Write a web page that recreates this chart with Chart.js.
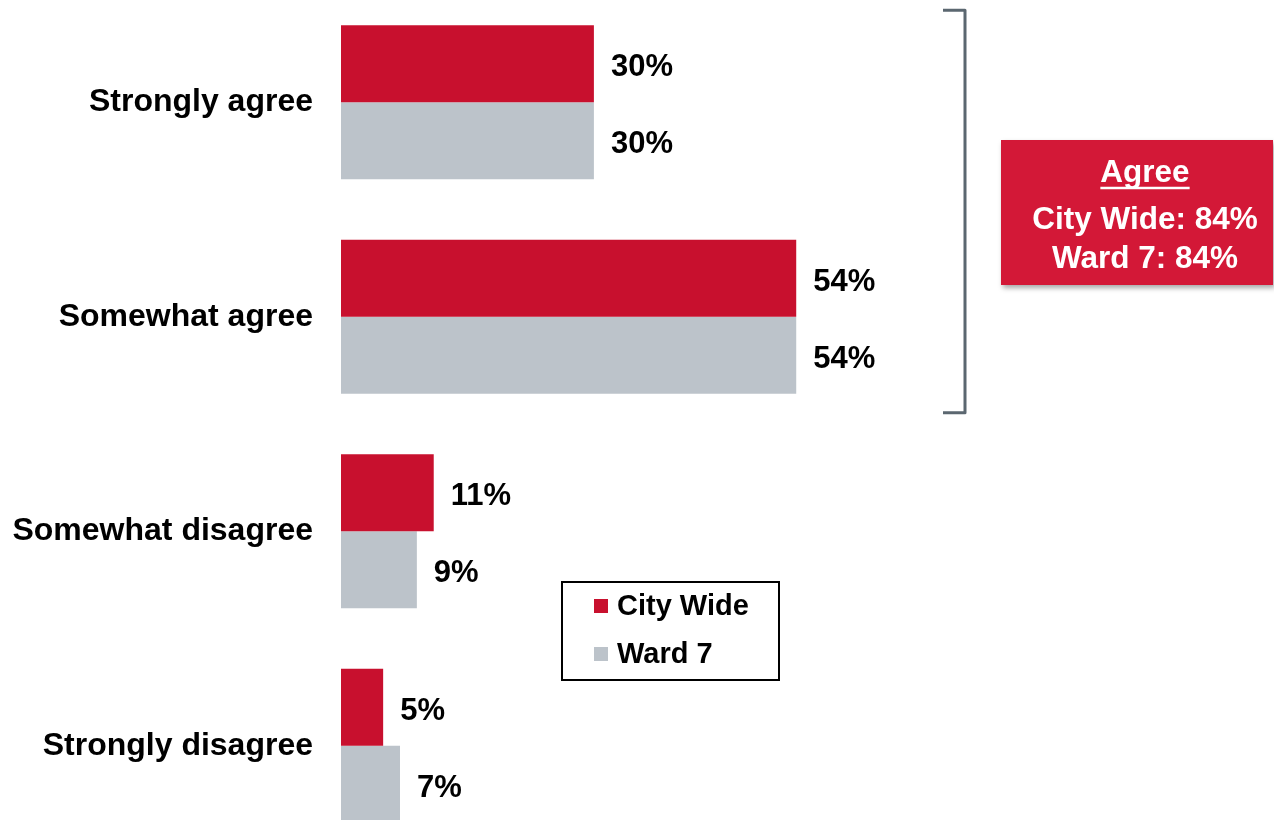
<!DOCTYPE html>
<html>
<head>
<meta charset="utf-8">
<script src="https://cdn.jsdelivr.net/npm/chart.js@4"></script>
<style>
  html, body { margin: 0; padding: 0; background: #fff; overflow: hidden; }
  #chart { position: absolute; left: 0; top: -6px; }
</style>
</head>
<body>
<canvas id="chart" width="1274" height="860"></canvas>
<script>
const categories = ['Strongly agree', 'Somewhat agree', 'Somewhat disagree', 'Strongly disagree'];
const seriesNames = ['City Wide', 'Ward 7'];
const cityWide = [30, 54, 11, 5];
const ward7 = [30, 54, 9, 7];
const agreeTotals = [84, 84];

const RED = '#C8102E';
const GREY = '#BCC3CA';
const FONT = '"Liberation Sans", Arial, sans-serif';

// value labels right of every bar
const valueLabels = {
    id: 'valueLabels',
    afterDatasetsDraw(chart) {
        const ctx = chart.ctx;
        ctx.save();
        ctx.font = 'bold 31px ' + FONT;
        ctx.fillStyle = '#000';
        ctx.textBaseline = 'middle';
        ctx.textAlign = 'left';
        chart.data.datasets.forEach((ds, i) => {
            chart.getDatasetMeta(i).data.forEach((bar, j) => {
                ctx.fillText(ds.data[j] + '%', bar.x + 17, bar.y + 4);
            });
        });
        ctx.restore();
    }
};

// legend box, bracket and the "Agree" callout
const extras = {
    id: 'extras',
    afterDraw(chart) {
        const ctx = chart.ctx;
        const y = chart.scales.y;
        const oy = 6; // canvas is shifted up by 6px

        // legend
        ctx.save();
        ctx.strokeStyle = '#000';
        ctx.lineWidth = 2;
        ctx.strokeRect(562, 582 + oy, 217, 98);
        ctx.font = 'bold 29px ' + FONT;
        ctx.textBaseline = 'alphabetic';
        ctx.textAlign = 'left';
        chart.data.datasets.forEach((ds, i) => {
            const ty = 615 + i * 48 + oy;
            ctx.fillStyle = ds.backgroundColor;
            ctx.fillRect(594, ty - 16, 14, 14);
            ctx.fillStyle = '#000';
            ctx.fillText(ds.label, 617, ty);
        });
        ctx.restore();

        // bracket spanning the two agree categories
        const top = y.getPixelForValue(0) - 92;
        const bottom = y.getPixelForValue(1) + 96;
        ctx.save();
        ctx.strokeStyle = '#5B6770';
        ctx.lineWidth = 3;
        ctx.lineJoin = 'round';
        ctx.beginPath();
        ctx.moveTo(943, top);
        ctx.lineTo(965, top);
        ctx.lineTo(965, bottom);
        ctx.lineTo(943, bottom);
        ctx.stroke();
        ctx.restore();

        // callout box
        ctx.save();
        ctx.shadowColor = 'rgba(0,0,0,0.35)';
        ctx.shadowBlur = 5;
        ctx.shadowOffsetX = 2;
        ctx.shadowOffsetY = 3;
        ctx.fillStyle = '#D31837';
        ctx.fillRect(1001, 140 + oy, 272, 145);
        ctx.restore();

        ctx.save();
        ctx.fillStyle = '#fff';
        ctx.strokeStyle = '#fff';
        ctx.font = 'bold 31.5px ' + FONT;
        ctx.textAlign = 'center';
        ctx.textBaseline = 'alphabetic';
        const cx = 1145;
        ctx.fillText('Agree', cx, 182 + oy);
        const w = ctx.measureText('Agree').width;
        ctx.lineWidth = 2.5;
        ctx.beginPath();
        ctx.moveTo(cx - w / 2, 188 + oy);
        ctx.lineTo(cx + w / 2, 188 + oy);
        ctx.stroke();
        ctx.fillText(seriesNames[0] + ': ' + agreeTotals[0] + '%', cx, 229 + oy);
        ctx.fillText(seriesNames[1] + ': ' + agreeTotals[1] + '%', cx, 268 + oy);
        ctx.restore();
    }
};

new Chart(document.getElementById('chart'), {
    type: 'bar',
    data: {
        labels: categories,
        datasets: [
            { label: seriesNames[0], data: cityWide, backgroundColor: RED },
            { label: seriesNames[1], data: ward7, backgroundColor: GREY }
        ]
    },
    options: {
        indexAxis: 'y',
        responsive: false,
        maintainAspectRatio: false,
        animation: false,
        devicePixelRatio: 1,
        layout: { padding: { top: 1, bottom: 1, left: 0, right: 90 } },
        datasets: {
            bar: { categoryPercentage: 0.718, barPercentage: 1.0 }
        },
        scales: {
            x: { display: false, min: 0, max: 100 },
            y: {
                grid: { display: false, drawTicks: false },
                border: { display: false },
                ticks: {
                    color: '#000',
                    padding: 28,
                    font: { family: FONT, size: 32, weight: 'bold' }
                },
                afterFit(scale) {
                    scale.width = 341;
                    scale.paddingTop = 0;
                    scale.paddingBottom = 0;
                }
            }
        },
        plugins: {
            legend: { display: false },
            tooltip: { enabled: false }
        }
    },
    plugins: [valueLabels, extras]
});
</script>
</body>
</html>
